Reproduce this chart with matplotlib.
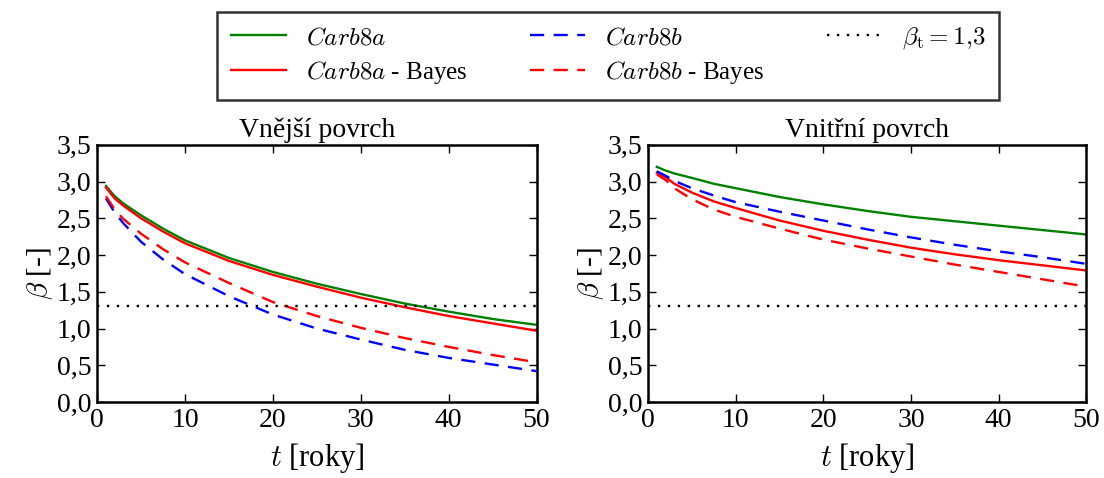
"""Beta vs time, carbonation models"""

import matplotlib.pyplot as plt

plt.rcParams['font.family'] = ['Liberation Serif', 'DejaVu Serif']
plt.rcParams['mathtext.fontset'] = 'cm'

t = [1, 2, 3, 5, 7.5, 10, 15, 20, 25, 30, 35, 40, 45, 50]

# Vnější povrch
out_a = [2.94, 2.80, 2.70, 2.54, 2.36, 2.20, 1.96, 1.77, 1.61, 1.47, 1.34, 1.23, 1.13, 1.05]
out_a_bayes = [2.92, 2.77, 2.67, 2.50, 2.32, 2.16, 1.92, 1.73, 1.57, 1.42, 1.29, 1.17, 1.07, 0.97]
out_b = [2.77, 2.58, 2.43, 2.18, 1.94, 1.74, 1.44, 1.19, 1.00, 0.85, 0.71, 0.60, 0.51, 0.42]
out_b_bayes = [2.80, 2.62, 2.49, 2.29, 2.08, 1.90, 1.62, 1.36, 1.17, 1.01, 0.87, 0.75, 0.64, 0.54]

# Vnitřní povrch
in_a = [3.20, 3.15, 3.11, 3.05, 2.97, 2.91, 2.79, 2.69, 2.60, 2.52, 2.46, 2.40, 2.34, 2.28]
in_a_bayes = [3.12, 3.06, 2.97, 2.85, 2.73, 2.64, 2.47, 2.33, 2.21, 2.10, 2.01, 1.93, 1.86, 1.79]
in_b = [3.14, 3.08, 3.01, 2.91, 2.81, 2.72, 2.59, 2.47, 2.35, 2.24, 2.14, 2.05, 1.97, 1.88]
in_b_bayes = [3.10, 3.02, 2.91, 2.76, 2.62, 2.52, 2.36, 2.21, 2.09, 1.98, 1.87, 1.77, 1.67, 1.57]

beta_t = 1.3
y_ticks = [0, 0.5, 1.0, 1.5, 2.0, 2.5, 3.0, 3.5]
y_labels = ['0,0', '0,5', '1,0', '1,5', '2,0', '2,5', '3,0', '3,5']
x_ticks = [0, 10, 20, 30, 40, 50]

fig = plt.figure(figsize=(11.04, 4.78), dpi=100)
ax1 = fig.add_axes([0.088, 0.159, 0.398, 0.538])
ax2 = fig.add_axes([0.587, 0.159, 0.397, 0.538])

dash = (0, (6, 4))
dots = (0, (1, 3.2))

panels = [
    (ax1, 'Vnější povrch', out_a, out_a_bayes, out_b, out_b_bayes),
    (ax2, 'Vnitřní povrch', in_a, in_a_bayes, in_b, in_b_bayes),
]
for ax, title, a, a_bayes, b, b_bayes in panels:
    ax.plot(t, a, color='green', lw=1.7, label=r'$Carb8a$')
    ax.plot(t, a_bayes, color='red', lw=1.7, label=r'$Carb8a$ - Bayes')
    ax.plot(t, b, color='blue', lw=1.7, linestyle=dash, label=r'$Carb8b$')
    ax.plot(t, b_bayes, color='red', lw=1.7, linestyle=dash, label=r'$Carb8b$ - Bayes')
    ax.axhline(beta_t, color='black', lw=1.7, linestyle=dots,
               label=r'$\beta_{\rm t}=1{,}3$')
    ax.set_xlim(0, 50)
    ax.set_ylim(0, 3.5)
    ax.set_xticks(x_ticks)
    ax.set_xticklabels([str(x) for x in x_ticks])
    ax.set_yticks(y_ticks)
    ax.set_yticklabels(y_labels)
    ax.tick_params(direction='in', top=True, right=True, length=6, width=1,
                   labelsize=20, pad=4)
    for s in ax.spines.values():
        s.set_linewidth(1.8)
    ax.set_title(title, fontsize=20, pad=6)
    ax.set_xlabel(r'$t$ [roky]', fontsize=22, labelpad=6)
    ax.set_ylabel(r'$\beta$ [-]', fontsize=21, labelpad=1)

handles, labels = ax1.get_legend_handles_labels()
leg = fig.legend(handles, labels, loc='upper center', bbox_to_anchor=(0.551, 0.975),
                 ncol=3, fontsize=18, frameon=True, fancybox=False,
                 edgecolor='black', handlelength=2.2, columnspacing=2.5,
                 borderpad=0.55, labelspacing=0.4, handletextpad=0.8,
                 borderaxespad=0)
leg.get_frame().set_linewidth(1.8)

plt.savefig('out.png', dpi=100)
